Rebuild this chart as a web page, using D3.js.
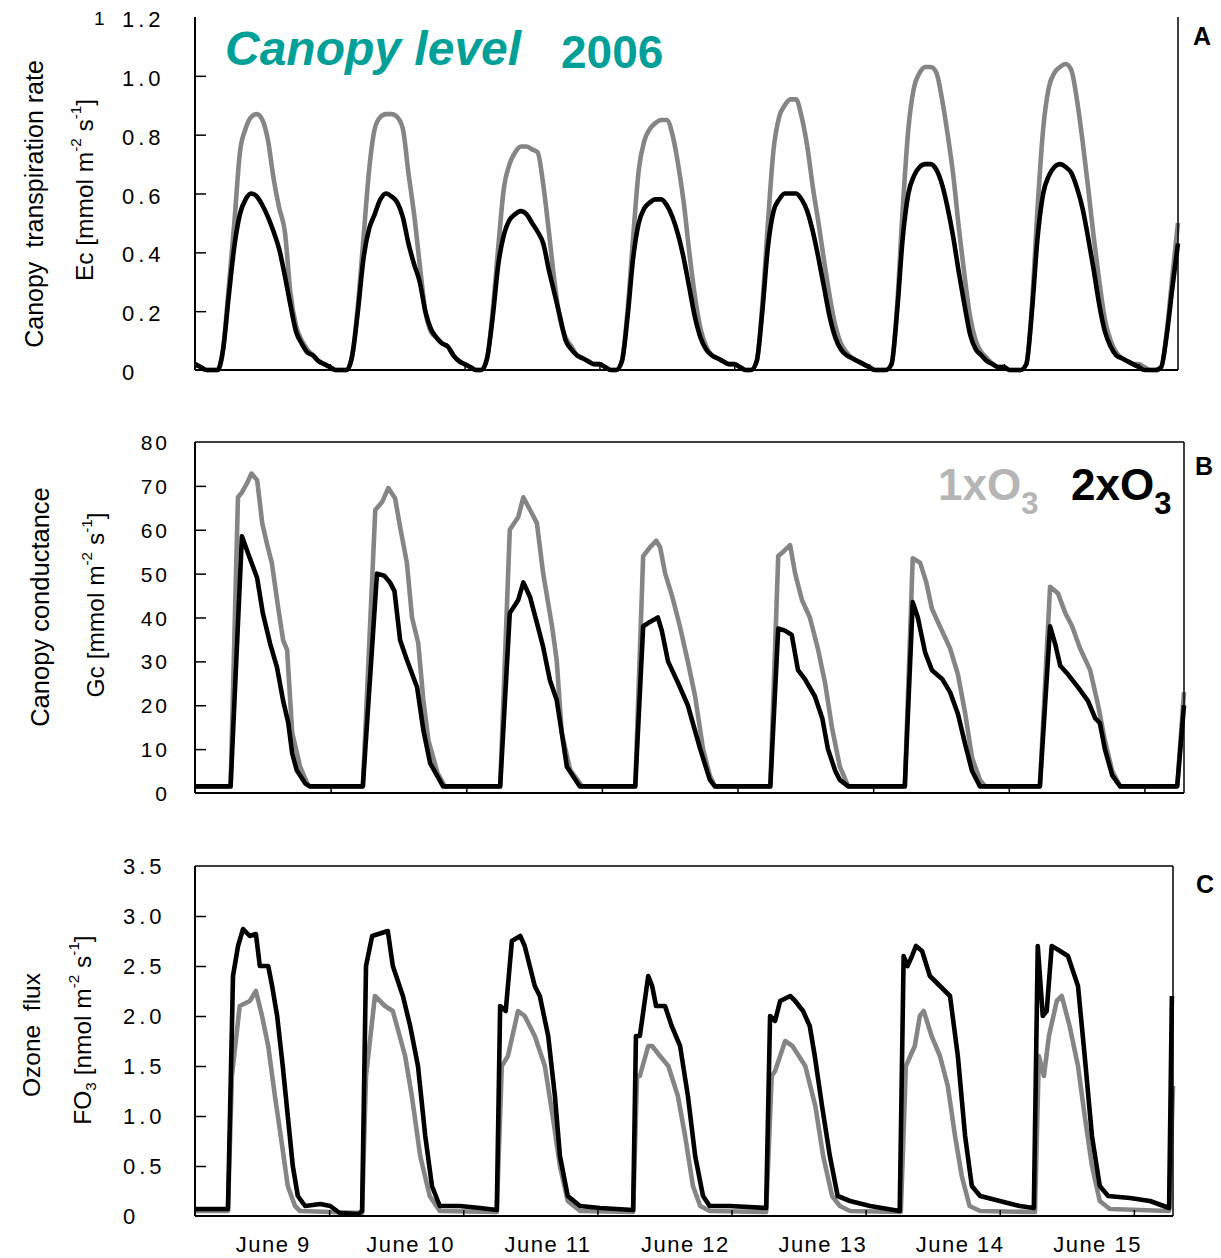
<!DOCTYPE html>
<html><head><meta charset="utf-8">
<script src="https://cdn.jsdelivr.net/npm/d3@7"></script>
<style>
body{margin:0;background:#fff}
svg{display:block}
text{font-family:"Liberation Sans",Arial,sans-serif;white-space:pre}
</style>
</head><body>
<svg id="c" width="1221" height="1258"></svg>
<script>
// ---------------- DATA ----------------
const dayLabels = ["June 9","June 10","June 11","June 12","June 13","June 14","June 15"];
const dayTicks = [24,48,72,96,120,144,168];           // hours (midnights)
const ecTicks = [0,0.2,0.4,0.6,0.8,1.0,1.2];
const gcTicks = [0,10,20,30,40,50,60,70,80];
const foTicks = [0,0.5,1.0,1.5,2.0,2.5,3.0,3.5];
const seriesNames = ["1xO3","2xO3"];

// Panel A: canopy transpiration Ec, hourly values (hour 0 = June 9 00:00)
const ecGrey = [
 0.02,0.01,0.00,0.00,0.00,0.07,0.28,0.50,0.74,0.82,0.86,0.87,0.85,0.78,0.65,0.55,0.47,0.26,0.15,0.10,0.07,0.05,0.03,0.02,
 0.01,0.00,0.00,0.00,0.05,0.22,0.45,0.68,0.82,0.86,0.87,0.87,0.86,0.82,0.67,0.53,0.36,0.20,0.13,0.11,0.09,0.08,0.05,0.03,
 0.02,0.01,0.00,0.00,0.04,0.20,0.42,0.62,0.70,0.74,0.76,0.76,0.75,0.74,0.63,0.47,0.30,0.17,0.11,0.08,0.05,0.04,0.03,0.02,
 0.02,0.01,0.00,0.00,0.03,0.20,0.45,0.68,0.78,0.82,0.84,0.85,0.85,0.80,0.70,0.57,0.40,0.25,0.14,0.08,0.05,0.04,0.03,0.02,
 0.02,0.01,0.00,0.00,0.03,0.22,0.50,0.75,0.86,0.90,0.92,0.92,0.86,0.76,0.62,0.50,0.37,0.25,0.15,0.09,0.06,0.04,0.03,0.02,
 0.01,0.00,0.00,0.00,0.02,0.22,0.55,0.82,0.96,1.01,1.03,1.03,1.01,0.92,0.80,0.66,0.48,0.32,0.18,0.10,0.06,0.04,0.02,0.01,
 0.01,0.00,0.00,0.00,0.02,0.22,0.55,0.82,0.96,1.01,1.03,1.04,1.02,0.92,0.78,0.62,0.45,0.30,0.17,0.10,0.06,0.04,0.03,0.02,
 0.02,0.01,0.00,0.00,0.01,0.13,0.32,0.50];
const ecBlack = [
 0.02,0.01,0.00,0.00,0.00,0.07,0.25,0.42,0.53,0.58,0.60,0.59,0.56,0.52,0.47,0.41,0.32,0.22,0.13,0.09,0.06,0.05,0.03,0.02,
 0.01,0.00,0.00,0.00,0.05,0.20,0.38,0.48,0.53,0.58,0.60,0.59,0.57,0.52,0.43,0.36,0.30,0.20,0.14,0.11,0.09,0.08,0.05,0.03,
 0.02,0.01,0.00,0.00,0.04,0.18,0.36,0.46,0.51,0.53,0.54,0.53,0.50,0.47,0.43,0.34,0.26,0.18,0.10,0.07,0.05,0.04,0.03,0.02,
 0.02,0.01,0.00,0.00,0.03,0.18,0.38,0.50,0.55,0.57,0.58,0.58,0.56,0.52,0.46,0.38,0.28,0.18,0.11,0.07,0.05,0.04,0.03,0.02,
 0.02,0.01,0.00,0.00,0.03,0.20,0.42,0.54,0.58,0.60,0.60,0.60,0.58,0.54,0.47,0.38,0.28,0.18,0.11,0.07,0.05,0.04,0.03,0.02,
 0.01,0.00,0.00,0.00,0.02,0.20,0.45,0.60,0.66,0.69,0.70,0.70,0.68,0.63,0.55,0.45,0.33,0.22,0.12,0.07,0.05,0.03,0.02,0.01,
 0.01,0.00,0.00,0.00,0.02,0.20,0.45,0.60,0.66,0.69,0.70,0.69,0.67,0.62,0.55,0.45,0.34,0.22,0.13,0.08,0.05,0.04,0.03,0.02,
 0.01,0.00,0.00,0.00,0.01,0.12,0.28,0.43];

// Panel B: canopy conductance Gc, [hour, value]
const gcGrey = [
 [0,1.5],[6.3,1.5],[7.6,67.4],[8.3,68.5],[9.2,70.6],[10,72.8],[11,71.3],[11.9,61.5],[12.7,57],[13.6,52.4],[14.7,42.4],[15.6,34.8],[16.3,32.6],[17.2,13.7],[18.6,6],[20,1.8],[20.5,1.5],
 [29.7,1.5],[31.9,64.5],[33.1,66.3],[34.2,69.5],[35.4,67.2],[36.3,60.6],[37.5,52.4],[38.4,40],[39.5,34.2],[40.4,21.2],[41.3,12],[42.9,4.6],[44.2,1.5],
 [54,1.5],[55.7,60],[57.2,62.9],[58.1,67.4],[59.3,64.5],[60.5,61.5],[61.6,50.1],[63.2,37.8],[64,30.3],[64.9,13.7],[66.4,5.2],[68.5,1.5],
 [77.9,1.5],[79.3,54],[80.5,56],[81.6,57.5],[82.3,56],[83.2,50],[84.4,45],[85.8,38],[87.2,30],[88.5,22],[89.9,10],[91.1,4],[92,1.5],
 [101.8,1.5],[103.2,54],[104.1,55],[105.3,56.5],[106.2,50],[107.4,44],[108.8,40],[110.2,33],[111.5,25],[112.7,15],[114.1,6],[115.6,1.5],
 [125.6,1.5],[127,53.5],[128.3,52.5],[129.4,48],[130.4,42],[131.8,38],[133.6,33],[135,27],[136.3,18],[137.5,8],[138.9,3],[139.8,1.5],
 [149.5,1.5],[151.3,47],[152.7,45.5],[154,41],[155.2,38],[156.6,33],[158.4,28],[159.8,20],[161,12],[162.3,5],[163.7,1.5],
 [173.8,1.5],[175,23]];
const gcBlack = [
 [0,1.5],[6.3,1.5],[8.3,58.5],[9.4,54.6],[11,49],[12,41],[13.3,34],[14.5,28.7],[15.6,21],[16.5,16],[17.2,9],[18,5.2],[19.5,2.2],[20.3,1.5],
 [29.7,1.5],[32.2,50],[33.5,49.5],[34.5,48],[35.3,46],[36.3,34.8],[37.5,30.3],[39.3,24.1],[40.4,14.4],[41.6,6.8],[43.9,1.5],
 [54,1.5],[55.7,41],[57.2,44],[58.1,48],[59.3,44.6],[60.7,37.8],[61.6,33.3],[62.8,25.7],[64,21.2],[64.9,13.7],[65.8,6],[68.1,1.5],
 [77.9,1.5],[79.3,38],[80.5,39],[81.9,40],[82.6,37],[83.7,30],[85.5,25],[87.2,20],[89.4,10],[91.1,3],[92,1.5],
 [101.8,1.5],[103.2,37.5],[104.4,37],[105.6,36],[106.7,28],[107.9,26],[109.7,22],[111,17],[112,10],[113.3,5],[114.1,3],[115.6,1.5],
 [125.6,1.5],[127,43.5],[127.9,40],[129.2,32],[130.4,28],[132.2,26],[133.6,23],[135,18],[136.3,11],[137.5,5],[138.9,1.5],
 [149.5,1.5],[151.3,38],[152.2,34],[153.1,29],[154.5,27],[156.3,24],[158,21],[159.3,17],[160.1,16],[161,10],[162.3,4],[163.7,1.5],
 [173.8,1.5],[175,20]];

// Panel C: ozone flux FO3, [hour, value]
const foGrey = [
 [0,0.05],[5.9,0.05],[6.6,1.4],[8.0,2.1],[9.8,2.15],[10.9,2.25],[12.0,2.0],[13.1,1.7],[14.3,1.2],[15.6,0.7],[16.6,0.3],[17.9,0.1],[18.8,0.05],
 [29.9,0.03],[30.6,1.4],[32.2,2.2],[34.0,2.1],[35.4,2.05],[37.6,1.6],[38.8,1.2],[40.3,0.6],[42.0,0.2],[43.8,0.05],
 [54.0,0.04],[54.9,1.5],[56.0,1.6],[57.8,2.05],[59.0,2.0],[60.8,1.8],[62.6,1.5],[64.0,1.0],[65.3,0.5],[66.7,0.15],[68.9,0.05],
 [78.4,0.04],[79.1,1.4],[79.6,1.4],[81.1,1.7],[81.8,1.7],[83.2,1.6],[84.7,1.5],[86.4,1.2],[87.7,0.8],[89.1,0.3],[90.4,0.1],[92.1,0.05],
 [102.2,0.04],[103.2,1.4],[103.8,1.45],[105.6,1.75],[106.9,1.7],[109.2,1.5],[111.0,1.1],[112.4,0.6],[114.0,0.2],[115.4,0.1],[117.2,0.05],
 [126.3,0.04],[127.2,1.5],[128.8,1.7],[129.7,2.0],[130.4,2.05],[131.8,1.8],[133.3,1.6],[134.7,1.3],[136.0,0.8],[137.2,0.4],[138.6,0.1],[140.5,0.05],
 [150.3,0.04],[151.0,1.6],[151.9,1.4],[152.8,1.8],[154.2,2.15],[155.1,2.2],[156.5,1.9],[158.0,1.5],[159.2,1.0],[160.5,0.5],[161.9,0.15],[163.7,0.07],
 [174.3,0.05],[175,1.3]];
const foBlack = [
 [0,0.07],[5.9,0.07],[6.8,2.4],[7.7,2.7],[8.6,2.87],[9.8,2.8],[10.9,2.82],[11.6,2.5],[13.1,2.5],[13.8,2.3],[14.7,2.0],[15.7,1.5],[16.6,1.0],[17.5,0.5],[18.4,0.2],[19.7,0.1],[22.4,0.12],[24.2,0.1],[25.9,0.03],[29.2,0.02],
 [29.9,0.05],[30.6,2.5],[31.7,2.8],[34.5,2.85],[35.4,2.5],[37.2,2.2],[38.5,1.9],[39.9,1.5],[41.2,0.8],[42.4,0.3],[43.8,0.1],[47.4,0.1],[51.0,0.08],[54.0,0.06],
 [54.6,2.1],[55.6,2.05],[56.7,2.75],[58.2,2.8],[59.0,2.7],[60.8,2.3],[61.7,2.2],[63.2,1.8],[64.4,1.2],[65.3,0.6],[66.7,0.2],[68.9,0.1],[72.5,0.08],[78.4,0.06],
 [78.9,1.8],[79.6,1.8],[81.1,2.4],[81.8,2.3],[82.5,2.1],[84.1,2.1],[85.3,1.9],[86.8,1.7],[88.2,1.2],[89.5,0.6],[90.9,0.2],[92.1,0.1],[95.7,0.1],[102.2,0.08],
 [102.9,2.0],[103.8,1.95],[104.7,2.15],[106.5,2.2],[107.4,2.15],[108.8,2.05],[110.0,1.9],[110.9,1.6],[112.2,1.1],[113.6,0.6],[115.0,0.2],[117.2,0.15],[120.8,0.1],[126.1,0.05],
 [126.8,2.6],[127.5,2.5],[128.3,2.6],[129.0,2.7],[130.1,2.65],[131.5,2.4],[133.3,2.3],[135.1,2.2],[136.5,1.6],[137.8,0.8],[139.0,0.3],[140.5,0.2],[144.0,0.15],[147.6,0.1],[150.1,0.08],
 [150.8,2.7],[151.7,2.0],[152.4,2.05],[153.3,2.7],[154.8,2.65],[156.2,2.6],[158.0,2.3],[159.2,1.6],[160.5,0.8],[161.9,0.3],[163.4,0.2],[167.3,0.18],[170.9,0.15],[174.3,0.08],[174.8,2.2]];

// ---------------- DRAW ----------------
const svg = d3.select("#c");
const GREY = "#858585", LEG_GREY = "#b5b5b5", TEAL = "#00a098";

function drawPanel(o){
  const g = svg.append("g");
  const x = d3.scaleLinear().domain([0,175]).range([o.left,o.right]);
  const y = d3.scaleLinear().domain([0,o.yMax]).range([o.bottom,o.top]);
  const line = d3.line().x(d=>x(d[0])).y(d=>y(d[1])).curve(o.curve);
  g.append("path").datum(o.grey).attr("d",line).attr("fill","none")
    .attr("stroke",GREY).attr("stroke-width",4.6).attr("stroke-linejoin","round");
  g.append("path").datum(o.black).attr("d",line).attr("fill","none")
    .attr("stroke","#000").attr("stroke-width",4.6).attr("stroke-linejoin","round");

  // inward tick marks
  const yAx = d3.axisRight(y).tickValues(o.ticks.filter(t=>t>0 && t<o.yMax)).tickSize(11).tickFormat("");
  g.append("g").attr("transform",`translate(${o.left},0)`).call(yAx)
    .call(s=>s.select(".domain").remove()).selectAll("line").attr("stroke","#000").attr("stroke-width",1.5);
  const xAx = d3.axisTop(x).tickValues(dayTicks).tickSize(6).tickFormat("");
  g.append("g").attr("transform",`translate(0,${o.bottom})`).call(xAx)
    .call(s=>s.select(".domain").remove()).selectAll("line").attr("stroke","#000").attr("stroke-width",1.5);

  // frame
  const fr = g.append("g").attr("stroke","#000").attr("fill","none");
  fr.append("line").attr("x1",o.left).attr("x2",o.left).attr("y1",o.top).attr("y2",o.bottom).attr("stroke-width",2);
  fr.append("line").attr("x1",o.left).attr("x2",o.right).attr("y1",o.bottom).attr("y2",o.bottom).attr("stroke-width",2);
  fr.append("line").attr("x1",o.right).attr("x2",o.right).attr("y1",o.top).attr("y2",o.bottom).attr("stroke-width",1.5);
  if(o.topLine) fr.append("line").attr("x1",o.left).attr("x2",o.right).attr("y1",o.top).attr("y2",o.top).attr("stroke-width",1.5);

  // tick labels
  g.append("g").selectAll("text").data(o.ticks).join("text")
    .attr("x",o.labelX).attr("y",d=>y(d)+o.labelDy)
    .attr("text-anchor",o.labelAnchor)
    .attr("font-size",o.labelSize).attr("letter-spacing",o.labelSpacing)
    .attr("fill","#000")
    .text(d=>d===0?"0":o.fmt(d));

  // panel letter
  g.append("text").attr("x",o.letterX).attr("y",o.letterY).attr("font-size",25)
    .attr("font-weight","bold").text(o.letter);
  return {g,x,y};
}

const pA = drawPanel({left:195,right:1178,top:17,bottom:370,yMax:1.2,ticks:ecTicks,
  grey:ecGrey.map((v,i)=>[i,v]), black:ecBlack.map((v,i)=>[i,v]), curve:d3.curveMonotoneX,
  labelX:122,labelAnchor:"start",labelDy:10,labelSize:22,labelSpacing:4,fmt:d3.format(".1f"),
  letter:"A",letterX:1193,letterY:45,topLine:false});
const pB = drawPanel({left:195,right:1184,top:442,bottom:793,yMax:80,ticks:gcTicks,
  grey:gcGrey, black:gcBlack, curve:d3.curveLinear,
  labelX:170,labelAnchor:"end",labelDy:8,labelSize:21,labelSpacing:3,fmt:d3.format("d"),
  letter:"B",letterX:1195,letterY:475,topLine:true});
const pC = drawPanel({left:195,right:1173,top:866,bottom:1216,yMax:3.5,ticks:foTicks,
  grey:foGrey, black:foBlack, curve:d3.curveLinear,
  labelX:123,labelAnchor:"start",labelDy:8,labelSize:22,labelSpacing:4,fmt:d3.format(".1f"),
  letter:"C",letterX:1196,letterY:893,topLine:true});

// y-axis titles
function vtitle(cx, cy, size, parts){
  const t = svg.append("text").attr("transform",`translate(${cx},${cy}) rotate(-90)`)
    .attr("text-anchor","middle").attr("dominant-baseline","central").attr("font-size",size);
  parts.forEach(p=>{
    const s = t.append("tspan").text(p.t);
    if(p.sup){ s.attr("font-size",size*0.62).attr("baseline-shift","super"); }
    if(p.sub){ s.attr("font-size",size*0.62).attr("baseline-shift","sub"); }
  });
}
vtitle(34,204,25,[{t:"Canopy  transpiration rate"}]);
vtitle(84,190,24.5,[{t:"Ec [mmol m"},{t:"-2",sup:true},{t:" s"},{t:"-1",sup:true},{t:"]"}]);
vtitle(40,607,25.5,[{t:"Canopy conductance"}]);
vtitle(95,605,24.5,[{t:"Gc [mmol m"},{t:"-2",sup:true},{t:" s"},{t:"-1",sup:true},{t:"]"}]);
vtitle(31,1035,24.5,[{t:"Ozone  flux"}]);
vtitle(82,1030,24.5,[{t:"FO"},{t:"3",sub:true},{t:" [nmol m"},{t:"-2",sup:true},{t:" s"},{t:"-1",sup:true},{t:"]"}]);

// stray "1"
svg.append("text").attr("x",94).attr("y",25).attr("font-size",19).text("1");

// title
svg.append("text").attr("x",225).attr("y",65).attr("font-size",48).attr("font-weight","bold")
  .attr("font-style","italic").attr("fill",TEAL).text("Canopy level");
svg.append("text").attr("x",561).attr("y",68).attr("font-size",46).attr("font-weight","bold")
  .attr("fill",TEAL).text("2006");

// legend with white background
const leg = svg.append("g");
const legBg = leg.append("rect").attr("fill","#fff");
const legColors = [LEG_GREY,"#000"];
const legX = [938,1071];
seriesNames.forEach((n,i)=>{
  const t = leg.append("text").attr("x",legX[i]).attr("y",500).attr("font-size",44)
    .attr("font-weight","bold").attr("fill",legColors[i]);
  t.append("tspan").text(n.slice(0,3));
  t.append("tspan").attr("font-size",31).attr("dy",14).text(n.slice(3));
});
const bb = leg.node().getBBox();
legBg.attr("x",bb.x-4).attr("y",bb.y-6).attr("width",bb.width+14).attr("height",bb.height+8);

// day labels under panel C
const labPos = d3.scalePoint().domain(dayLabels).range([pC.x(14), pC.x(161.5)]);
svg.append("g").selectAll("text").data(dayLabels).join("text")
  .attr("x",d=>labPos(d)).attr("y",1252).attr("text-anchor","middle")
  .attr("font-size",22).attr("letter-spacing",1.5).text(d=>d);
</script>
</body></html>
